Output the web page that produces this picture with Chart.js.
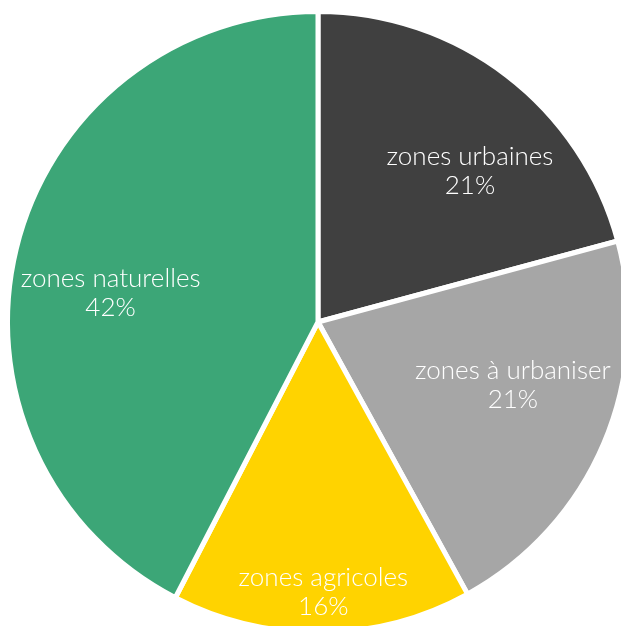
<!DOCTYPE html>
<html><head><meta charset="utf-8">
<script src="https://cdn.jsdelivr.net/npm/chart.js@4"></script>
<style>html,body{margin:0;padding:0;background:#fff;overflow:hidden;width:621px;height:626px}#wrap{position:absolute;left:0;top:0;width:640px;height:640px}</style>
</head><body>
<div id="wrap"><canvas id="c" width="640" height="640"></canvas></div>
<script>
const categories = ["zones urbaines", "zones à urbaniser", "zones agricoles", "zones naturelles"];
const values = [20.8, 21.2, 15.6, 42.4];
const percentLabels = ["21%", "21%", "16%", "42%"];
const colors = ["#404040", "#a6a6a6", "#ffd300", "#3ca677"];
// label placement: radius fraction and angle shift (degrees)
const labelLayout = [{r:0.695, da:7.8},{r:0.665, da:-5.1},{r:0.877, da:-0.4},{r:0.68, da:-5.7}];

const labelPlugin = {
  id: 'sliceLabels',
  afterDatasetsDraw(chart) {
    const ctx = chart.ctx;
    const meta = chart.getDatasetMeta(0);
    ctx.save();
    ctx.fillStyle = '#ffffff';
    ctx.font = '300 26px Lato';
    ctx.textAlign = 'center';
    ctx.textBaseline = 'middle';
    meta.data.forEach((arc, i) => {
      const p = arc.getProps(['x','y','startAngle','endAngle','outerRadius'], true);
      const a = (p.startAngle + p.endAngle) / 2 + labelLayout[i].da * Math.PI / 180;
      const r = 308 * labelLayout[i].r;
      const x = p.x + Math.cos(a) * r;
      const y = p.y + Math.sin(a) * r;
      ctx.fillText(categories[i], x, y - 14.5);
      ctx.fillText(percentLabels[i], x, y + 14.5);
    });
    ctx.restore();
  }
};

new Chart(document.getElementById('c'), {
  type: 'pie',
  data: {
    labels: categories,
    datasets: [{
      data: values,
      backgroundColor: colors,
      borderColor: '#ffffff',
      borderWidth: 5
    }]
  },
  options: {
    responsive: false,
    animation: false,
    layout: { padding: { left: 5, top: 9, right: 9, bottom: 5 } },
    plugins: { legend: { display: false }, tooltip: { enabled: false } }
  },
  plugins: [labelPlugin]
});
</script>
</body></html>
